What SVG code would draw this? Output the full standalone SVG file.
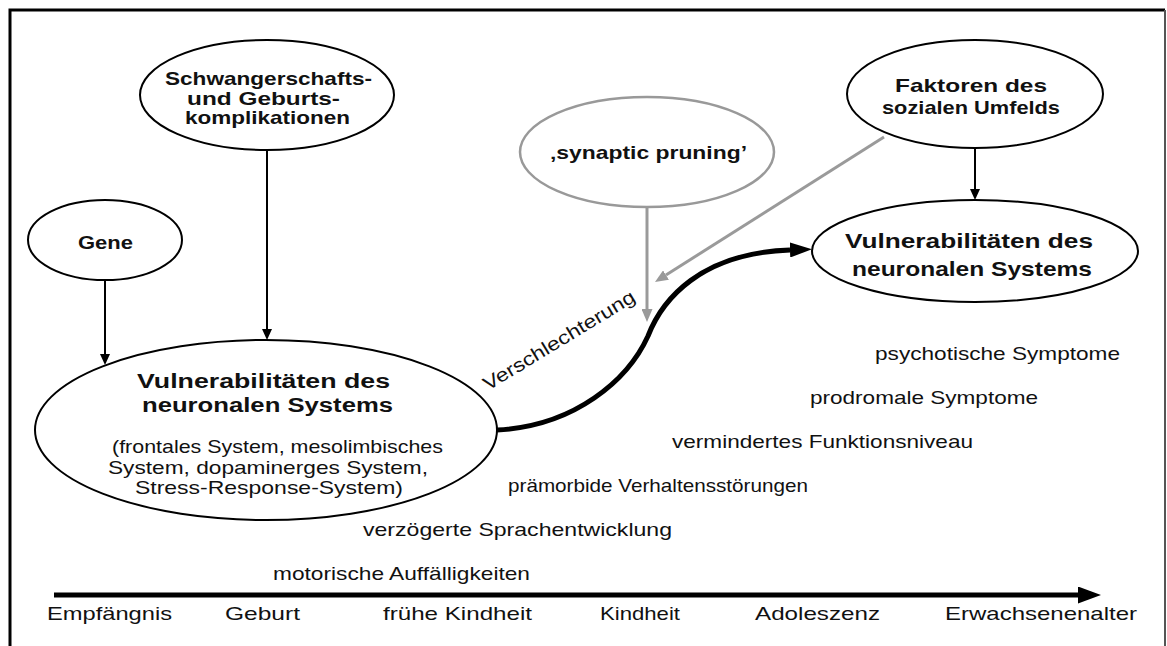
<svg xmlns="http://www.w3.org/2000/svg" width="1167" height="646" viewBox="0 0 1167 646">
<defs>
<style>
text{font-family:"Liberation Sans",Arial,sans-serif;fill:#111;}
.b{font-weight:bold;font-size:19px;}
.bl{font-weight:bold;font-size:21px;}
.bm{font-weight:bold;font-size:20px;}
.r{font-size:19px;}
.node{fill:#fff;stroke:#000;stroke-width:2;}
.gnode{fill:#fff;stroke:#999;stroke-width:2.5;}
.thin{stroke:#000;stroke-width:2;fill:none;}
.gray{stroke:#9a9a9a;stroke-width:3;fill:none;}
</style>
<marker id="ab" markerUnits="userSpaceOnUse" markerWidth="11" markerHeight="10" refX="0" refY="5" orient="auto"><path d="M0,0 L11,5 L0,10 z" fill="#000"/></marker>
<marker id="ag" markerUnits="userSpaceOnUse" markerWidth="13" markerHeight="11" refX="0" refY="5.5" orient="auto"><path d="M0,0 L13,5.5 L0,11 z" fill="#9a9a9a"/></marker>
<marker id="abig" markerUnits="userSpaceOnUse" markerWidth="22" markerHeight="15" refX="0" refY="7.5" orient="auto"><path d="M0,0 L22,7.5 L0,15 z" fill="#000"/></marker>
<marker id="axis" markerUnits="userSpaceOnUse" markerWidth="23" markerHeight="17" refX="0" refY="8.5" orient="auto"><path d="M0,0 L23,8.5 L0,17 z" fill="#000"/></marker>
</defs>
<rect width="1167" height="646" fill="#fff"/>
<path d="M10,660 L10,10 L1165,10" fill="none" stroke="#000" stroke-width="3"/>
<path d="M1165,10 L1165,660" fill="none" stroke="#555" stroke-width="2"/>

<g id="connectors">
<line class="thin" x1="105" y1="280" x2="105" y2="354" marker-end="url(#ab)"/>
<line class="thin" x1="267" y1="150" x2="267" y2="329" marker-end="url(#ab)"/>
<line class="thin" x1="975" y1="148" x2="975" y2="189" marker-end="url(#ab)"/>
<line class="gray" x1="647" y1="207" x2="647" y2="309" marker-end="url(#ag)"/>
<line class="gray" x1="884" y1="137" x2="666" y2="275" marker-end="url(#ag)"/>
<path d="M497,430 C575,426 628,380 648,336 C662,300 700,253 790,250" fill="none" stroke="#000" stroke-width="5" marker-end="url(#abig)"/>
<line x1="54" y1="595" x2="1078" y2="595" stroke="#000" stroke-width="5" marker-end="url(#axis)"/>
<text class="r" x="0" y="0" font-size="18" textLength="174" lengthAdjust="spacingAndGlyphs" transform="translate(488,391) rotate(-31.3)">Verschlechterung</text>
</g>

<g id="node-schwangerschaft">
<ellipse class="node" cx="267" cy="95" rx="127" ry="55"/>
<text class="b" x="165" y="85" textLength="207" lengthAdjust="spacingAndGlyphs">Schwangerschafts-</text>
<text class="b" x="187" y="105" textLength="153" lengthAdjust="spacingAndGlyphs">und Geburts-</text>
<text class="b" x="185" y="124" textLength="165" lengthAdjust="spacingAndGlyphs">komplikationen</text>
</g>

<g id="node-gene">
<ellipse class="node" cx="105" cy="240" rx="77" ry="40"/>
<text class="b" x="78" y="249" textLength="55" lengthAdjust="spacingAndGlyphs">Gene</text>
</g>

<g id="node-pruning">
<ellipse class="gnode" cx="647" cy="152" rx="127" ry="55"/>
<text class="b" x="550" y="159" textLength="197" lengthAdjust="spacingAndGlyphs">‚synaptic pruning’</text>
</g>

<g id="node-umfeld">
<ellipse class="node" cx="975" cy="94" rx="128" ry="54"/>
<text class="b" x="895" y="92" textLength="152" lengthAdjust="spacingAndGlyphs">Faktoren des</text>
<text class="b" x="882" y="114" textLength="178" lengthAdjust="spacingAndGlyphs">sozialen Umfelds</text>
</g>

<g id="node-vuln-right">
<ellipse class="node" cx="975" cy="251" rx="163" ry="51"/>
<text class="bl" x="845" y="248" textLength="248" lengthAdjust="spacingAndGlyphs">Vulnerabilitäten des</text>
<text class="bl" x="852" y="276" textLength="240" lengthAdjust="spacingAndGlyphs">neuronalen Systems</text>
</g>

<g id="node-vuln-left">
<ellipse class="node" cx="266" cy="430" rx="231" ry="90"/>
<text class="bm" x="137" y="388" textLength="253" lengthAdjust="spacingAndGlyphs">Vulnerabilitäten des</text>
<text class="bm" x="142" y="412" textLength="251" lengthAdjust="spacingAndGlyphs">neuronalen Systems</text>
<text class="r" x="112" y="453" textLength="331" lengthAdjust="spacingAndGlyphs">(frontales System, mesolimbisches</text>
<text class="r" x="108" y="474" textLength="320" lengthAdjust="spacingAndGlyphs">System, dopaminerges System,</text>
<text class="r" x="135" y="494" textLength="268" lengthAdjust="spacingAndGlyphs">Stress-Response-System)</text>
</g>

<g id="symptoms">
<text class="r" x="875" y="360" textLength="245" lengthAdjust="spacingAndGlyphs">psychotische Symptome</text>
<text class="r" x="810" y="404" textLength="228" lengthAdjust="spacingAndGlyphs">prodromale Symptome</text>
<text class="r" x="672" y="448" textLength="301" lengthAdjust="spacingAndGlyphs">vermindertes Funktionsniveau</text>
<text class="r" x="508" y="492" textLength="300" lengthAdjust="spacingAndGlyphs">prämorbide Verhaltensstörungen</text>
<text class="r" x="363" y="536" textLength="309" lengthAdjust="spacingAndGlyphs">verzögerte Sprachentwicklung</text>
<text class="r" x="273" y="580" textLength="257" lengthAdjust="spacingAndGlyphs">motorische Auffälligkeiten</text>
</g>

<g id="timeline-labels">
<text class="r" x="47" y="620" textLength="125" lengthAdjust="spacingAndGlyphs">Empfängnis</text>
<text class="r" x="225" y="620" textLength="75" lengthAdjust="spacingAndGlyphs">Geburt</text>
<text class="r" x="383" y="620" textLength="149" lengthAdjust="spacingAndGlyphs">frühe Kindheit</text>
<text class="r" x="600" y="620" textLength="80" lengthAdjust="spacingAndGlyphs">Kindheit</text>
<text class="r" x="755" y="620" textLength="125" lengthAdjust="spacingAndGlyphs">Adoleszenz</text>
<text class="r" x="945" y="620" textLength="192" lengthAdjust="spacingAndGlyphs">Erwachsenenalter</text>
</g>
</svg>
